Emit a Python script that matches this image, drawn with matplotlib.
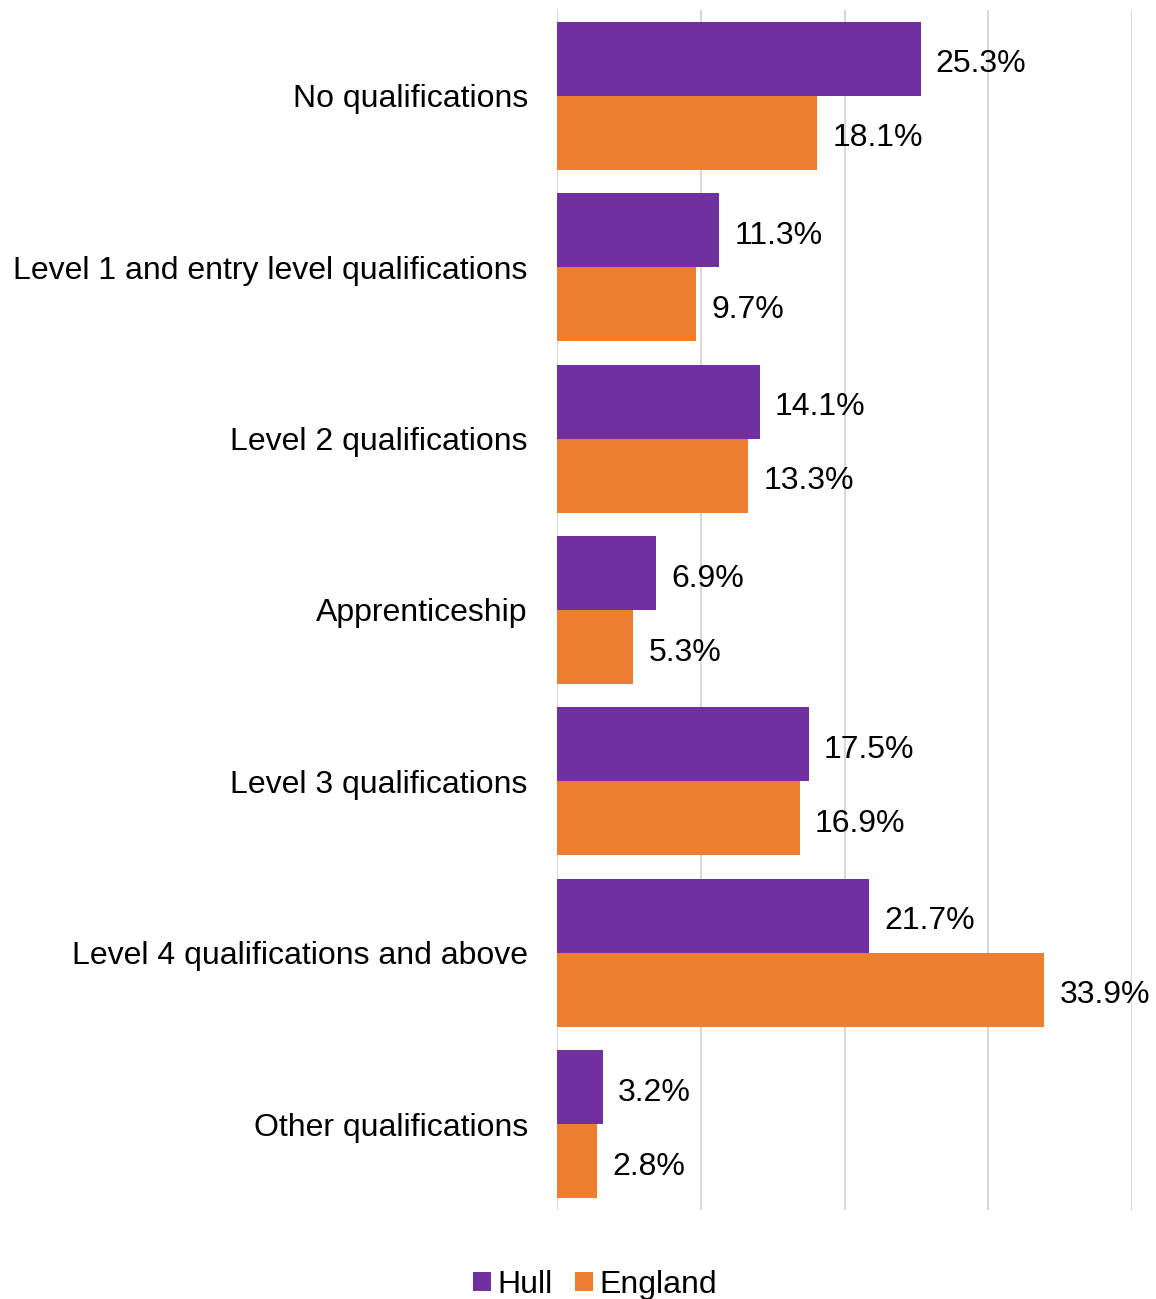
import matplotlib.pyplot as plt
import numpy as np

plt.rcParams['font.family'] = ['Liberation Sans', 'DejaVu Sans']

categories = ["No qualifications", "Level 1 and entry level qualifications",
              "Level 2 qualifications", "Apprenticeship", "Level 3 qualifications",
              "Level 4 qualifications and above", "Other qualifications"]
hull = [25.3, 11.3, 14.1, 6.9, 17.5, 21.7, 3.2]
england = [18.1, 9.7, 13.3, 5.3, 16.9, 33.9, 2.8]
xticks = [0, 10, 20, 30, 40]

purple = '#7030A0'
orange = '#ED7D31'
fs = 23

fig = plt.figure(figsize=(11.56, 12.99), dpi=100)
ax = fig.add_axes([557/1156, 1-1210/1299, (1132-557)/1156, 1200/1299])

y = np.arange(len(categories))
h = 0.432
ax.barh(y - h/2, hull, height=h, color=purple, label='Hull', zorder=2)
ax.barh(y + h/2, england, height=h, color=orange, label='England', zorder=2)

# small downward nudge so digits sit on the bar's middle
dy = 0.012
for i in range(len(categories)):
    ax.text(hull[i] + 1.05, y[i] - h/2 + dy, f"{hull[i]:.1f}%", va='center_baseline', ha='left', fontsize=fs, zorder=3)
    ax.text(england[i] + 1.05, y[i] + h/2 + dy, f"{england[i]:.1f}%", va='center_baseline', ha='left', fontsize=fs, zorder=3)

ax.set_xlim(0, 40)
ax.set_ylim(len(categories) - 0.5, -0.5)
ax.set_xticks(xticks)
ax.set_xticklabels([])
ax.tick_params(axis='x', length=0)
ax.set_yticks(y)
ax.set_yticklabels(categories, fontsize=fs)
ax.tick_params(axis='y', length=0, pad=21)
ax.grid(axis='x', color='#D9D9D9', linewidth=1.5, zorder=0)
for s in ax.spines.values():
    s.set_visible(False)

fig.legend(loc='center', bbox_to_anchor=(595/1156, 1-1285/1299), ncol=2, frameon=False,
           fontsize=fs, handlelength=0.55, handleheight=0.55, handletextpad=0.2, columnspacing=0.7)

fig.savefig('out.png', dpi=100)
